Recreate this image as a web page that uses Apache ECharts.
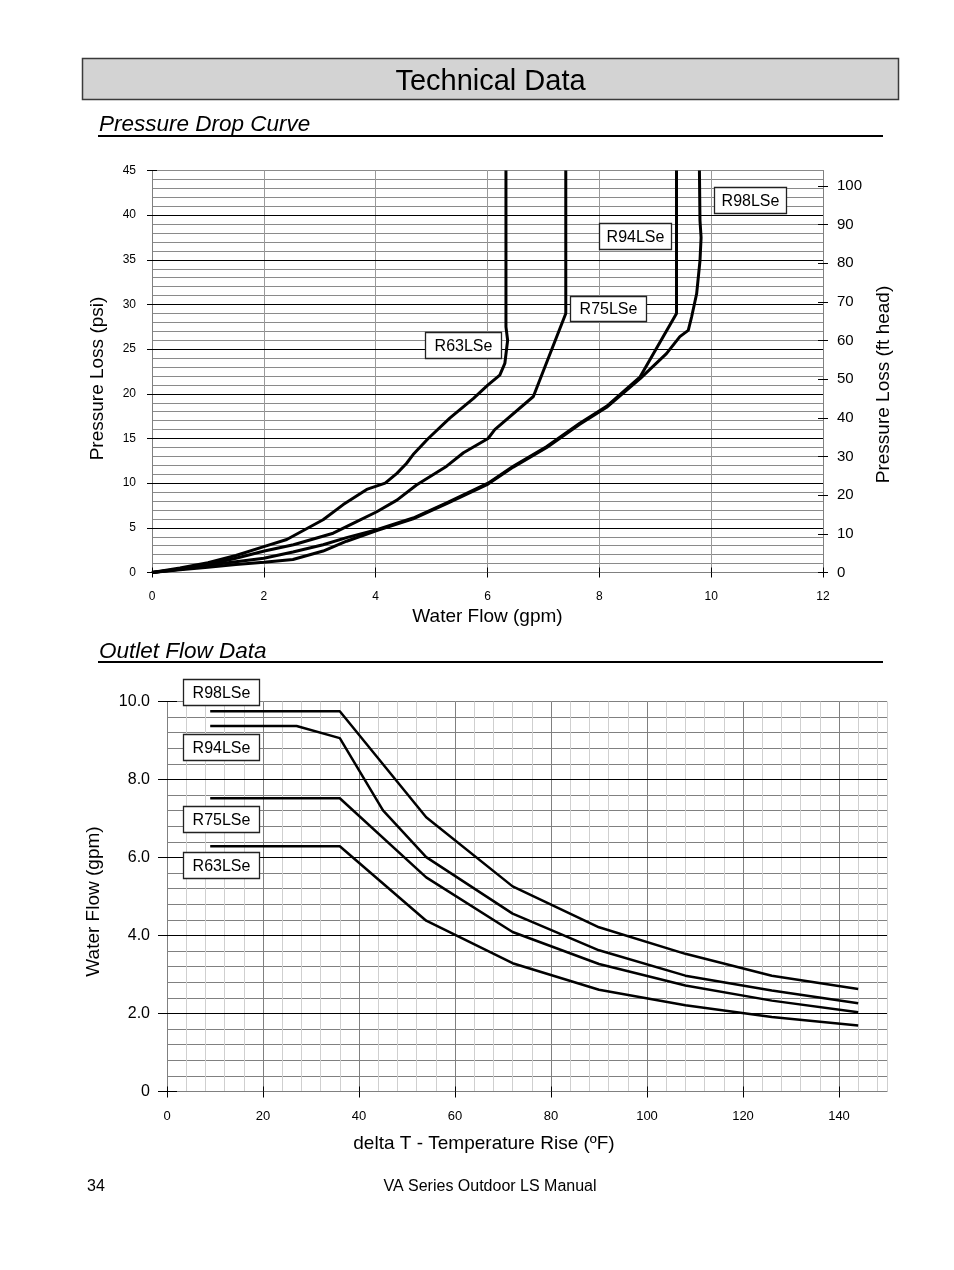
<!DOCTYPE html>
<html><head><meta charset="utf-8">
<script src="https://cdn.jsdelivr.net/npm/echarts@6/dist/echarts.min.js"></script>
<style>html,body{margin:0;padding:0;background:#fff}#c{width:954px;height:1270px}</style>
</head><body><div id="c"></div>
<script>
// ---------- Pressure Drop Curve (flow in gpm, loss in psi) ----------
const r63Flow = [0, 0.5, 1.0, 1.5, 2.0, 2.41, 3.06, 3.42, 3.84, 4.17, 4.38, 4.55, 4.67, 4.94, 5.33, 5.75, 6.01, 6.22, 6.31, 6.36, 6.33, 6.33];
const r63Psi  = [0, 0.5, 1.1, 1.9, 2.9, 3.7, 5.9, 7.6, 9.3, 10.0, 11.1, 12.2, 13.2, 15.0, 17.3, 19.5, 21.0, 22.1, 23.4, 26.0, 27.5, 45];
const r75Flow = [0, 0.5, 1.0, 1.5, 2.01, 2.53, 3.24, 3.66, 4.02, 4.38, 4.73, 5.27, 5.57, 6.01, 6.13, 6.82, 7.40, 7.40];
const r75Psi  = [0, 0.4, 0.9, 1.6, 2.4, 3.1, 4.4, 5.7, 6.8, 8.1, 9.8, 11.9, 13.4, 15.0, 16.0, 19.7, 29.0, 45];
const r94Flow = [0, 0.5, 1.0, 1.5, 2.0, 2.52, 3.06, 3.48, 4.02, 4.67, 5.27, 6.01, 6.46, 7.06, 7.65, 8.13, 8.73, 9.38, 9.38];
const r94Psi  = [0, 0.35, 0.8, 1.2, 1.6, 2.3, 3.1, 3.9, 4.8, 6.1, 7.8, 10.0, 11.9, 14.1, 16.7, 18.6, 21.9, 29.0, 45];
const r98Flow = [0, 0.5, 1.0, 1.5, 2.0, 2.52, 3.06, 3.48, 4.02, 4.67, 5.27, 6.01, 6.46, 7.06, 7.65, 8.13, 8.73, 9.2, 9.44, 9.59, 9.65, 9.74, 9.80, 9.82, 9.80, 9.79];
const r98Psi  = [0, 0.3, 0.6, 0.9, 1.15, 1.45, 2.4, 3.5, 4.7, 6.0, 7.7, 9.9, 11.8, 14.0, 16.6, 18.5, 21.7, 24.5, 26.4, 27.1, 28.6, 31.2, 34.9, 37.5, 39.4, 45];
const ftHeadTicks = [0, 10, 20, 30, 40, 50, 60, 70, 80, 90, 100];

// ---------- Outlet Flow Data (temperature rise in F, flow in gpm) ----------
const tempRise  = [9, 36, 54, 72, 90, 108, 126, 144];
const r94Temp   = [9, 27, 36, 45, 54, 72, 90, 108, 126, 144];
const r98Outlet = [9.75, 9.75, 7.03, 5.26, 4.21, 3.53, 2.97, 2.63];
const r94Outlet = [9.37, 9.37, 9.06, 7.21, 6.01, 4.56, 3.62, 2.97, 2.59, 2.26];
const r75Outlet = [7.52, 7.52, 5.49, 4.09, 3.27, 2.72, 2.33, 2.03];
const r63Outlet = [6.29, 6.29, 4.38, 3.29, 2.61, 2.21, 1.91, 1.69];
const tempTicks = [0, 20, 40, 60, 80, 100, 120, 140];

const FONT = '"Liberation Sans", Arial, Helvetica, sans-serif';
const PSI_TO_FT = 2.31;
const zip = (xs, ys) => xs.map((x, i) => [x, ys[i]]);

const chart = echarts.init(document.getElementById('c'), null, {renderer: 'canvas'});

const lineSeries = (name, data, xi, yi, w) => ({
  type: 'line', name, data, xAxisIndex: xi, yAxisIndex: yi,
  showSymbol: false, symbol: 'none', smooth: false, clip: false,
  lineStyle: {color: '#000', width: w}, z: 5, silent: true
});

const txt = (t, x, y, size, opts = {}) => Object.assign({
  type: 'text', x, y, silent: true,
  style: Object.assign({text: t, fill: '#000', font: size + 'px ' + FONT,
    textAlign: 'left', textVerticalAlign: 'middle', align: 'left', verticalAlign: 'middle'}, opts.style || {})
}, opts.el || {});

const box = (t, x, y, w, h, size) => ([
  {type: 'rect', silent: true, z: 20, shape: {x: x + 0.5, y: y + 0.5, width: w, height: h},
   style: {fill: '#fff', stroke: '#222', lineWidth: 1.3}},
  {type: 'text', silent: true, z: 21, x: x + w / 2 + 0.5, y: y + h / 2 + 1.5,
   style: {text: t, fill: '#000', font: size + 'px ' + FONT, textAlign: 'center', align: 'center',
     textVerticalAlign: 'middle', verticalAlign: 'middle'}}
]);

const noAxisParts = {axisLine: {show: false, onZero: false}, axisTick: {show: false}, axisLabel: {show: false}, splitLine: {show: false}};
const nameStyle = {fontSize: 19, color: '#000', fontFamily: FONT};

const option = {
  animation: false,
  backgroundColor: '#fff',
  textStyle: {fontFamily: FONT},
  grid: [
    {left: 152, top: 170.5, width: 671, height: 402, containLabel: false, outerBoundsMode: 'none'},
    {left: 167, top: 701.5, width: 720, height: 390, containLabel: false, outerBoundsMode: 'none'}
  ],
  xAxis: [
    { // 0 flow main
      gridIndex: 0, type: 'value', min: 0, max: 12, interval: 2, position: 'bottom', z: 2,
      axisLine: {show: true, onZero: false, lineStyle: {color: '#808080', width: 1}},
      axisTick: {show: true, inside: false, length: 5, lineStyle: {color: '#000'}},
      axisLabel: {show: true, margin: 18, fontSize: 12, color: '#000', fontFamily: FONT},
      splitLine: {show: true, lineStyle: {color: '#9a9a9a', width: 1}},
      name: 'Water Flow (gpm)', nameLocation: 'middle', nameGap: 35, nameTextStyle: nameStyle
    },
    Object.assign({gridIndex: 0, type: 'value', min: 0, max: 12, interval: 2, position: 'bottom', z: 3}, noAxisParts,
      {axisTick: {show: true, inside: true, length: 5, lineStyle: {color: '#000'}}}),
    { // 2 temp main
      gridIndex: 1, type: 'value', min: 0, max: 150, interval: 20, position: 'bottom', z: 2,
      axisLine: {show: true, onZero: false, lineStyle: {color: '#808080', width: 1}},
      axisTick: {show: true, inside: false, length: 6, lineStyle: {color: '#000'}, customValues: tempTicks},
      axisLabel: {show: true, margin: 18, fontSize: 13, color: '#000', fontFamily: '"Liberation Sans Narrow", "Liberation Sans", Arial, sans-serif', customValues: tempTicks},
      splitLine: {show: true, lineStyle: {color: '#808080', width: 1}},
      name: 'delta T - Temperature Rise (ºF)', nameLocation: 'middle', nameGap: 43,
      nameTextStyle: Object.assign({padding: [0, 86, 0, 0]}, nameStyle)
    },
    Object.assign({gridIndex: 1, type: 'value', min: 0, max: 150, interval: 4, position: 'bottom', z: 1}, noAxisParts,
      {splitLine: {show: true, lineStyle: {color: '#cfcfcf', width: 1}}}),
    Object.assign({gridIndex: 1, type: 'value', min: 0, max: 150, interval: 20, position: 'bottom', z: 3}, noAxisParts,
      {axisTick: {show: true, inside: true, length: 5, lineStyle: {color: '#000'}, customValues: tempTicks}})
  ],
  yAxis: [
    { // 0 psi main
      gridIndex: 0, type: 'value', min: 0, max: 45, interval: 5, position: 'left', z: 3,
      axisLine: {show: true, onZero: false, lineStyle: {color: '#808080', width: 1}},
      axisTick: {show: true, inside: false, length: 5, lineStyle: {color: '#000'}},
      axisLabel: {show: true, margin: 16, fontSize: 12, color: '#000', fontFamily: FONT},
      splitLine: {show: true, showMinLine: false, showMaxLine: false, lineStyle: {color: '#000', width: 1}},
      name: 'Pressure Loss (psi)', nameLocation: 'middle', nameGap: 44.5,
      nameTextStyle: Object.assign({padding: [0, 14, 0, 0]}, nameStyle)
    },
    Object.assign({gridIndex: 0, type: 'value', min: 0, max: 45, interval: 1, position: 'left', z: 1}, noAxisParts,
      {splitLine: {show: true, lineStyle: {color: '#8a8a8a', width: 1}}}),
    Object.assign({gridIndex: 0, type: 'value', min: 0, max: 45, interval: 5, position: 'left', z: 4}, noAxisParts,
      {axisTick: {show: true, inside: true, length: 5, lineStyle: {color: '#000'}}}),
    { // 3 ft head right
      gridIndex: 0, type: 'value', min: 0, max: 45 * PSI_TO_FT, interval: 10, position: 'right', z: 3,
      axisLine: {show: true, onZero: false, lineStyle: {color: '#808080', width: 1}},
      axisTick: {show: true, inside: false, length: 5, lineStyle: {color: '#000'}, customValues: ftHeadTicks},
      axisLabel: {show: true, margin: 14, fontSize: 15, color: '#000', fontFamily: FONT, customValues: ftHeadTicks},
      splitLine: {show: false},
      name: 'Pressure Loss (ft head)', nameLocation: 'middle', nameGap: 51.5,
      nameTextStyle: Object.assign({padding: [0, 26, 0, 0]}, nameStyle)
    },
    Object.assign({gridIndex: 0, type: 'value', min: 0, max: 45 * PSI_TO_FT, interval: 10, position: 'right', z: 4}, noAxisParts,
      {axisTick: {show: true, inside: true, length: 5, lineStyle: {color: '#000'}, customValues: ftHeadTicks}}),
    { // 5 outlet flow main
      gridIndex: 1, type: 'value', min: 0, max: 10, interval: 2, position: 'left', z: 3,
      axisLine: {show: true, onZero: false, lineStyle: {color: '#808080', width: 1}},
      axisTick: {show: true, inside: false, length: 9, lineStyle: {color: '#000'}},
      axisLabel: {show: true, margin: 17, fontSize: 16, color: '#000', fontFamily: FONT,
        formatter: v => (v === 0 ? '0' : v.toFixed(1))},
      splitLine: {show: true, showMinLine: false, showMaxLine: false, lineStyle: {color: '#000', width: 1}},
      name: 'Water Flow (gpm)', nameLocation: 'middle', nameGap: 63.5,
      nameTextStyle: Object.assign({padding: [0, 10, 0, 0]}, nameStyle)
    },
    Object.assign({gridIndex: 1, type: 'value', min: 0, max: 10, interval: 0.4, position: 'left', z: 1}, noAxisParts,
      {splitLine: {show: true, lineStyle: {color: '#808080', width: 1}}}),
    Object.assign({gridIndex: 1, type: 'value', min: 0, max: 10, interval: 2, position: 'left', z: 4}, noAxisParts,
      {axisTick: {show: true, inside: true, length: 10, lineStyle: {color: '#000'}}})
  ],
  series: [
    lineSeries('R63LSe', zip(r63Flow, r63Psi), 0, 0, 3),
    lineSeries('R75LSe', zip(r75Flow, r75Psi), 0, 0, 3),
    lineSeries('R94LSe', zip(r94Flow, r94Psi), 0, 0, 3),
    lineSeries('R98LSe', zip(r98Flow, r98Psi), 0, 0, 3),
    lineSeries('R98LSe', zip(tempRise, r98Outlet), 2, 5, 2.5),
    lineSeries('R94LSe', zip(r94Temp, r94Outlet), 2, 5, 2.5),
    lineSeries('R75LSe', zip(tempRise, r75Outlet), 2, 5, 2.5),
    lineSeries('R63LSe', zip(tempRise, r63Outlet), 2, 5, 2.5)
  ],
  graphic: {elements: [
    {type: 'rect', silent: true, shape: {x: 82.5, y: 58.5, width: 816, height: 41},
     style: {fill: '#d3d3d3', stroke: '#3a3a3a', lineWidth: 1.5}},
    txt('Technical Data', 490.5, 82, 29, {style: {textAlign: 'center', align: 'center'}}),
    txt('Pressure Drop Curve', 99, 125, 22.5, {style: {font: 'italic 22.5px ' + FONT}}),
    {type: 'line', silent: true, shape: {x1: 98, y1: 136, x2: 883, y2: 136}, style: {stroke: '#000', lineWidth: 2}},
    txt('Outlet Flow Data', 99, 652, 22.5, {style: {font: 'italic 22.5px ' + FONT}}),
    {type: 'line', silent: true, shape: {x1: 98, y1: 662, x2: 883, y2: 662}, style: {stroke: '#000', lineWidth: 2}},
    txt('34', 87, 1187, 16),
    txt('VA Series Outdoor LS Manual', 490, 1187, 16, {style: {textAlign: 'center', align: 'center'}}),
    ...box('R63LSe', 425, 332, 76, 26, 16),
    ...box('R75LSe', 570, 296, 76, 25, 16),
    ...box('R94LSe', 599, 223, 72, 26, 16),
    ...box('R98LSe', 714, 187, 72, 26, 16),
    ...box('R98LSe', 183, 679, 76, 26, 16),
    ...box('R94LSe', 183, 734, 76, 26, 16),
    ...box('R75LSe', 183, 806, 76, 26, 16),
    ...box('R63LSe', 183, 852, 76, 26, 16)
  ]}
};
chart.setOption(option);
</script>
</body></html>
